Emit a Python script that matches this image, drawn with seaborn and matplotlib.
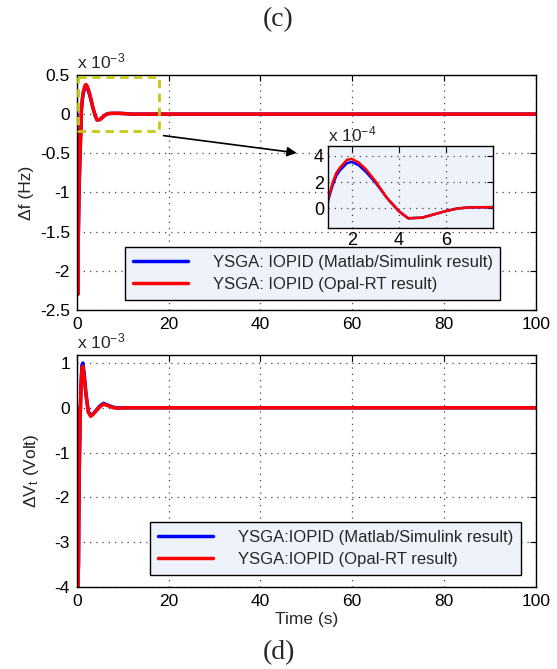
import numpy as np
import pandas as pd
import matplotlib
matplotlib.use("Agg")
import matplotlib.pyplot as plt
import seaborn as sns

# ---------------- data (values in units of 1e-3) ----------------
t_f = [0, 0.1, 0.2, 0.3, 0.5, 0.7, 0.9, 1.0, 1.2, 1.35, 1.5, 1.8, 2.0, 2.3, 2.6, 3.0, 3.5,
       4.0, 4.4, 5.0, 5.5, 6.0, 6.5, 7.0, 8.0, 9.0, 10, 11, 12, 15, 100]
df_sim = [0, -0.8, -2.3, -1.6, -0.9, -0.5, -0.15, 0.06, 0.18, 0.25, 0.29, 0.345, 0.355, 0.33, 0.28,
          0.2, 0.08, -0.02, -0.075, -0.07, -0.045, -0.02, 0.0, 0.008, 0.01, 0.01, 0.008, 0.004, 0, 0, 0]
df_rt = [0, -0.8, -2.3, -1.6, -0.9, -0.5, -0.15, 0.07, 0.2, 0.27, 0.31, 0.37, 0.378, 0.35, 0.3,
         0.21, 0.08, -0.02, -0.075, -0.07, -0.045, -0.02, 0.0, 0.008, 0.01, 0.01, 0.008, 0.004, 0, 0, 0]

t_v = [0, 0.1, 0.2, 0.35, 0.5, 0.7, 0.9, 1.1, 1.3, 1.6, 2.0, 2.5, 3.0, 3.5, 4.0, 5.0, 5.8,
       7.0, 8.0, 9.0, 10, 15, 20, 30, 100]
dv_sim = [0, -2.0, -4.0, -3.5, -1.5, -0.3, 0.5, 0.95, 1.0, 0.75, 0.3, -0.08, -0.17, -0.14, -0.08,
          0.04, 0.1, 0.05, 0.01, 0.0, 0.0, 0, 0, 0, 0]
dv_rt = [0, -2.0, -4.0, -3.5, -1.5, -0.3, 0.45, 0.88, 0.93, 0.7, 0.27, -0.1, -0.19, -0.15, -0.09,
         0.02, 0.08, 0.04, 0.0, -0.01, 0.0, 0, 0, 0, 0]

lab_f = ["YSGA: IOPID (Matlab/Simulink result)", "YSGA: IOPID (Opal-RT result)"]
lab_v = ["YSGA:IOPID (Matlab/Simulink result)", "YSGA:IOPID (Opal-RT result)"]

x_ticks = [0, 20, 40, 60, 80, 100]
yf_ticks = [-2.5, -2, -1.5, -1, -0.5, 0, 0.5]
yv_ticks = [-4, -3, -2, -1, 0, 1]
inset_xticks = [2, 4, 6]
inset_yticks = [0, 2, 4]

# ---------------- style ----------------
sns.set_style("white")
plt.rcParams['font.family'] = ['Liberation Sans', 'DejaVu Sans']
plt.rcParams['mathtext.fontset'] = 'custom'
plt.rcParams['mathtext.rm'] = 'Liberation Sans'
plt.rcParams['mathtext.it'] = 'Liberation Sans'
plt.rcParams['axes.unicode_minus'] = False

BLUE = "#0000ff"
RED = "#ff0000"
LEGBG = "#eef2fa"
FS = 12.5

fig = plt.figure(figsize=(5.57, 6.69), dpi=100)
ax1 = fig.add_axes([0.138, 0.5366, 0.824, 0.3514])
ax2 = fig.add_axes([0.138, 0.1226, 0.824, 0.3468])


def style_axes(ax):
    ax.grid(True, linestyle=(0, (1, 4)), color="#444444", linewidth=0.9)
    ax.tick_params(direction="in", length=4, labelsize=FS, colors="black", width=0.8,
                   top=True, right=True, pad=5)
    for s in ax.spines.values():
        s.set_color("black")
        s.set_linewidth(1.0)
        s.set_visible(True)


# top panel
dfa = pd.DataFrame({"t": t_f, "v": df_sim})
dfb = pd.DataFrame({"t": t_f, "v": df_rt})
sns.lineplot(data=dfa, x="t", y="v", ax=ax1, color=BLUE, lw=2.5, label=lab_f[0])
sns.lineplot(data=dfb, x="t", y="v", ax=ax1, color=RED, lw=2.5, label=lab_f[1])
ax1.set_xlim(0, 100)
ax1.set_ylim(-2.5, 0.5)
ax1.set_xticks(x_ticks)
ax1.set_yticks(yf_ticks)
ax1.set_yticklabels([("%g" % v) for v in yf_ticks])
ax1.set_xlabel("")
ax1.set_ylabel("Δf (Hz)", fontsize=FS, labelpad=4)
style_axes(ax1)
ax1.text(0.0, 1.015, r"x 10$^{-3}$", transform=ax1.transAxes, fontsize=FS, ha="left", va="bottom")
leg1 = ax1.legend(loc="lower left", bbox_to_anchor=(0.087, 0.008), fontsize=12,
                  frameon=True, fancybox=False, edgecolor="black", facecolor=LEGBG,
                  framealpha=1, handlelength=3.3, handletextpad=1.5, borderpad=0.45,
                  labelspacing=0.45)
leg1.get_frame().set_linewidth(1.0)

# dashed zoom box and arrow
ax1.plot([0.3, 17.9, 17.9, 0.3, 0.3], [0.47, 0.47, -0.22, -0.22, 0.47],
         color="#c8c814", lw=2, linestyle=(0, (3, 2)), zorder=5)
ax1.annotate("", xy=(48.5, -0.5), xytext=(18.3, -0.27),
             arrowprops=dict(arrowstyle="-|>", color="black", lw=1.2, mutation_scale=14))

# inset
axi = fig.add_axes([0.589, 0.659, 0.296, 0.1226])
ins = pd.DataFrame({"t": t_f, "a": [v * 10 for v in df_sim], "b": [v * 10 for v in df_rt]})
sns.lineplot(data=ins, x="t", y="a", ax=axi, color=BLUE, lw=1.8)
sns.lineplot(data=ins, x="t", y="b", ax=axi, color=RED, lw=1.8)
axi.set_xlim(1, 8)
axi.set_ylim(-1.5, 4.75)
axi.set_xticks(inset_xticks)
axi.set_yticks(inset_yticks)
axi.set_xlabel("")
axi.set_ylabel("")
axi.set_facecolor(LEGBG)
style_axes(axi)
axi.tick_params(pad=3, labelsize=13)
axi.text(0.0, 1.02, r"x 10$^{-4}$", transform=axi.transAxes, fontsize=FS, ha="left", va="bottom")

# bottom panel
dva = pd.DataFrame({"t": t_v, "v": dv_sim})
dvb = pd.DataFrame({"t": t_v, "v": dv_rt})
sns.lineplot(data=dva, x="t", y="v", ax=ax2, color=BLUE, lw=2.5, label=lab_v[0])
sns.lineplot(data=dvb, x="t", y="v", ax=ax2, color=RED, lw=2.5, label=lab_v[1])
ax2.set_xlim(0, 100)
ax2.set_ylim(-4, 1.18)
ax2.set_xticks(x_ticks)
ax2.set_yticks(yv_ticks)
ax2.set_xlabel("Time (s)", fontsize=FS, labelpad=2)
ax2.set_ylabel(r"ΔV$_t$ (Volt)", fontsize=FS, labelpad=10)
style_axes(ax2)
ax2.text(0.0, 1.015, r"x 10$^{-3}$", transform=ax2.transAxes, fontsize=FS, ha="left", va="bottom")
leg2 = ax2.legend(loc="lower left", bbox_to_anchor=(0.142, 0.017), fontsize=12,
                  frameon=True, fancybox=False, edgecolor="black", facecolor=LEGBG,
                  framealpha=1, handlelength=3.3, handletextpad=1.5, borderpad=0.45,
                  labelspacing=0.45)
leg2.get_frame().set_linewidth(1.0)

fig.text(0.5, 0.97, "(c)", ha="center", va="center", fontsize=20, family="Liberation Serif")
fig.text(0.5, 0.025, "(d)", ha="center", va="center", fontsize=20, family="Liberation Serif")

fig.savefig("out.png", dpi=100)
